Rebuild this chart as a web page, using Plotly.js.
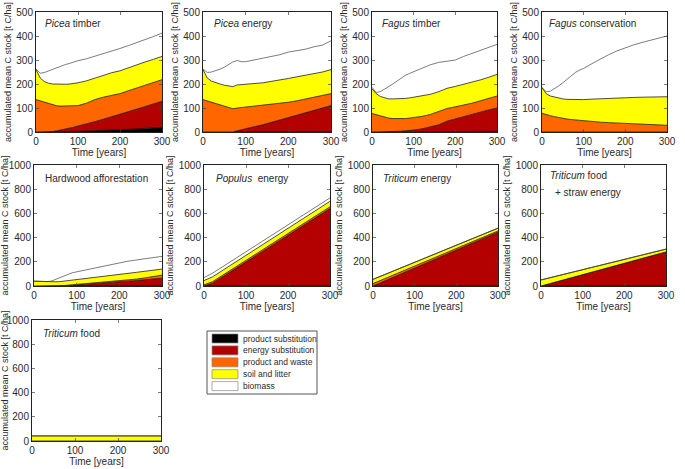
<!DOCTYPE html>
<html><head><meta charset="utf-8">
<script src="https://cdn.plot.ly/plotly-3.0.1.min.js"></script>
<style>html,body{margin:0;padding:0;background:#fff}#chart{width:685px;height:469px}</style>
</head><body><div id="chart"></div>
<script>
// ---- data (cumulative tops of the stacked layers, t C/ha) ----
const layerNames = ['product substitution','energy substitution','product and waste','soil and litter','biomass'];
const layerColors = ['#000000','#b30000','#ff6600','#ffff00','#ffffff'];
const xTicks = [0,100,200,300];
const years = [0,10,20,30,40,50,60,70,80,90,100,120,140,160,180,200,220,240,260,280,300];

const piceaTimberProduct = [0,0,0,0,0,0,0,1,1,2,3,4,5,7,8,10,11,13,15,17,19];
const piceaTimberEnergy  = [0,0,0,0,2,5,8,12,16,20,25,33,43,53,63,73,84,95,106,117,128];
const piceaTimberWaste   = [135,130,125,118,112,109,108,108,108,108,110,120,135,145,152,160,172,184,196,207,218];
const piceaTimberSoil    = [260,225,210,203,200,199,199,199,200,202,205,213,225,238,247,255,268,280,292,303,315];
const piceaTimberBiomass = [262,245,248,255,262,270,276,281,286,292,297,305,315,327,338,348,360,372,385,398,412];

const piceaEnergyProduct = [0,0,0,0,0,0,0,0,0,0,0,0,0,0,0,0,0,0,0,0,0];
const piceaEnergyEnergy  = [0,0,0,0,0,0,0,0,5,10,15,22,30,40,50,58,68,78,88,98,110];
const piceaEnergyWaste   = [135,130,125,118,112,107,102,97,100,102,103,106,109,113,118,124,130,137,144,151,160];
const piceaEnergySoil    = [260,225,212,205,200,195,192,189,196,197,198,200,205,211,216,223,230,236,243,250,260];
const piceaEnergyBiomass = [262,248,250,255,262,270,280,292,298,293,293,300,310,316,322,333,338,345,355,362,380];

const fagusTimberProduct = [0,0,0,0,0,0,0,0,0,0,0,0,0,0,0,0,1,1,2,2,3];
const fagusTimberEnergy  = [0,0,0,0,0,0,2,3,5,6,8,13,20,30,45,55,63,72,82,92,100];
const fagusTimberWaste   = [77,72,68,63,58,56,55,55,56,58,60,65,73,85,98,105,112,120,130,140,150];
const fagusTimberSoil    = [180,160,148,142,138,138,138,138,140,142,145,150,157,168,182,190,198,207,217,228,240];
const fagusTimberBiomass = [186,165,168,178,188,200,212,225,236,244,251,265,280,290,294,300,315,328,340,352,365];

const fagusConsProduct = [0,0,0,0,0,0,0,0,0,0,0,0,0,0,0,0,0,0,0,0,0];
const fagusConsEnergy  = [0,0,0,0,0,0,0,0,0,0,0,0,0,0,0,0,0,0,0,0,0];
const fagusConsWaste   = [78,72,68,64,60,57,54,52,50,48,46,44,41,39,37,35,34,32,31,30,28];
const fagusConsSoil    = [185,160,150,145,140,138,136,135,135,135,135,137,139,141,142,143,144,145,146,146,147];
const fagusConsBiomass = [185,168,170,180,192,205,220,235,248,258,265,285,305,322,338,352,363,373,382,390,400];

const hardwoodProduct = [0,0,0,0,0,0,0,0,0,0,0,0,0,0,0,0,0,0,0,0,0];
const hardwoodEnergy  = [0,0,0,0,0,0,0,2,4,7,10,15,20,25,30,35,40,45,52,58,65];
const hardwoodWaste   = [0,0,0,0,0,1,2,4,7,10,14,20,26,32,38,44,50,57,67,78,90];
const hardwoodSoil    = [40,38,35,35,35,35,36,40,45,50,55,63,71,79,87,95,104,113,122,131,140];
const hardwoodBiomass = [40,38,35,36,40,55,70,85,100,110,117,132,147,162,178,192,205,215,225,235,245];

const populusYears   = [0,20,300];
const populusProduct = [0,0,0];
const populusEnergy  = [0,22,640];
const populusWaste   = [10,35,655];
const populusSoil    = [45,75,700];
const populusBiomass = [70,105,728];

const cropYears = [0,300];
const triticumEnergyProduct = [0,0];
const triticumEnergyEnergy  = [0,445];
const triticumEnergyWaste   = [20,455];
const triticumEnergySoil    = [55,478];
const triticumEnergyBiomass = [55,478];

const triticumStrawProduct = [0,0];
const triticumStrawEnergy  = [0,282];
const triticumStrawWaste   = [0,282];
const triticumStrawSoil    = [50,305];
const triticumStrawBiomass = [50,305];

const triticumFoodProduct = [0,0];
const triticumFoodEnergy  = [0,0];
const triticumFoodWaste   = [0,0];
const triticumFoodSoil    = [42,42];
const triticumFoodBiomass = [42,42];

// ---- layout helpers ----
const W = 685, H = 469;
const px = v => v / W;
const py = v => 1 - v / H;

const panels = [
  {x: years, L:[piceaTimberProduct,piceaTimberEnergy,piceaTimberWaste,piceaTimberSoil,piceaTimberBiomass], ymax:500, dt:100, xd:[36,162], yd:[12,132], t:['<i>Picea</i> timber'], tx:17, ty:452},
  {x: years, L:[piceaEnergyProduct,piceaEnergyEnergy,piceaEnergyWaste,piceaEnergySoil,piceaEnergyBiomass], ymax:500, dt:100, xd:[203,331], yd:[12,132], t:['<i>Picea</i> energy'], tx:22, ty:452},
  {x: years, L:[fagusTimberProduct,fagusTimberEnergy,fagusTimberWaste,fagusTimberSoil,fagusTimberBiomass], ymax:500, dt:100, xd:[372,497], yd:[12,132], t:['<i>Fagus</i> timber'], tx:20, ty:452},
  {x: years, L:[fagusConsProduct,fagusConsEnergy,fagusConsWaste,fagusConsSoil,fagusConsBiomass], ymax:500, dt:100, xd:[542,667], yd:[12,132], t:['<i>Fagus</i> conservation'], tx:12, ty:452},
  {x: years, L:[hardwoodProduct,hardwoodEnergy,hardwoodWaste,hardwoodSoil,hardwoodBiomass], ymax:1000, dt:200, xd:[34,162], yd:[165,286], t:['Hardwood afforestation'], tx:20, ty:890},
  {x: populusYears, L:[populusProduct,populusEnergy,populusWaste,populusSoil,populusBiomass], ymax:1000, dt:200, xd:[204,330], yd:[165,286], t:['<i>Populus</i>  energy'], tx:24, ty:890},
  {x: cropYears, L:[triticumEnergyProduct,triticumEnergyEnergy,triticumEnergyWaste,triticumEnergySoil,triticumEnergyBiomass], ymax:1000, dt:200, xd:[373,498], yd:[165,286], t:['<i>Triticum</i> energy'], tx:20, ty:890},
  {x: cropYears, L:[triticumStrawProduct,triticumStrawEnergy,triticumStrawWaste,triticumStrawSoil,triticumStrawBiomass], ymax:1000, dt:200, xd:[541,666], yd:[165,286], t:['<i>Triticum</i> food','+ straw energy'], tx:17, ty:910},
  {x: cropYears, L:[triticumFoodProduct,triticumFoodEnergy,triticumFoodWaste,triticumFoodSoil,triticumFoodBiomass], ymax:1000, dt:200, xd:[32,161], yd:[320,441], t:['<i>Triticum</i> food'], tx:22, ty:885}
];

const FONT = 'Liberation Sans, Arial, sans-serif';
const NARROW = 'Liberation Sans Narrow, Arial Narrow, Liberation Sans, Arial, sans-serif';
const TXT = '#2a2a2a';

const data = [];
const layout = {
  width: W, height: H,
  margin: {l:0, r:0, t:0, b:0},
  paper_bgcolor: '#fff', plot_bgcolor: '#fff',
  showlegend: false,
  font: {family: FONT, color: TXT},
  annotations: [], shapes: []
};

panels.forEach((p, i) => {
  const k = i + 1;
  const xa = 'x' + k, ya = 'y' + k;
  p.L.forEach((arr, j) => {
    data.push({
      type: 'scatter', mode: 'lines', x: p.x, y: arr,
      xaxis: xa, yaxis: ya,
      fill: j === 0 ? 'tozeroy' : 'tonexty',
      fillcolor: layerColors[j],
      line: {color: j === 4 ? '#444' : '#000', width: 0.7},
      name: layerNames[j], hoverinfo: 'skip'
    });
  });
  layout['xaxis' + k] = {
    domain: [px(p.xd[0]), px(p.xd[1])], anchor: ya,
    range: [0, 300], tickvals: xTicks, ticks: 'inside', ticklen: 3, tickwidth: 0.7,
    showline: true, linecolor: '#222', linewidth: 1, mirror: 'ticks',
    showgrid: false, zeroline: false,
    tickfont: {family: NARROW, size: 10, color: TXT},
    title: {text: 'Time [years]', font: {family: FONT, size: 10, color: TXT}, standoff: 2}
  };
  layout['yaxis' + k] = {
    domain: [py(p.yd[1]), py(p.yd[0])], anchor: xa,
    range: [0, p.ymax], dtick: p.dt, ticks: 'inside', ticklen: 3, tickwidth: 0.7,
    showline: true, linecolor: '#222', linewidth: 1, mirror: 'ticks',
    showgrid: false, zeroline: false,
    tickfont: {family: NARROW, size: 10, color: TXT},
    title: {text: 'accumulated mean C stock [t C/ha]', font: {family: NARROW, size: 9, color: TXT}, standoff: 3}
  };
  p.t.forEach((txt, m) => {
    layout.annotations.push({
      xref: xa, yref: ya, x: m === 0 ? p.tx : p.tx + 12, y: p.ty - m * 140,
      text: txt, showarrow: false, xanchor: 'left', yanchor: 'middle',
      font: {family: FONT, size: 10, color: TXT}
    });
  });
});

// ---- legend box ----
const lg = {x0: 207, y0: 331, x1: 317, y1: 394, sw0: 212, sw1: 238, tx: 241, row0: 338.5, step: 11.9, sh: 9};
layout.shapes.push({type: 'rect', xref: 'paper', yref: 'paper',
  x0: px(lg.x0), x1: px(lg.x1), y0: py(lg.y1), y1: py(lg.y0),
  line: {color: '#555', width: 1}, fillcolor: '#fff'});
layerNames.forEach((nm, j) => {
  const cy = lg.row0 + j * lg.step;
  layout.shapes.push({type: 'rect', xref: 'paper', yref: 'paper',
    x0: px(lg.sw0), x1: px(lg.sw1), y0: py(cy + lg.sh / 2), y1: py(cy - lg.sh / 2),
    line: {color: '#888', width: 0.7}, fillcolor: layerColors[j]});
  layout.annotations.push({xref: 'paper', yref: 'paper', x: px(lg.tx), y: py(cy),
    text: nm, showarrow: false, xanchor: 'left', yanchor: 'middle',
    font: {family: FONT, size: 8.5, color: TXT}});
});

Plotly.newPlot('chart', data, layout, {staticPlot: true, displayModeBar: false});
</script>
</body></html>
